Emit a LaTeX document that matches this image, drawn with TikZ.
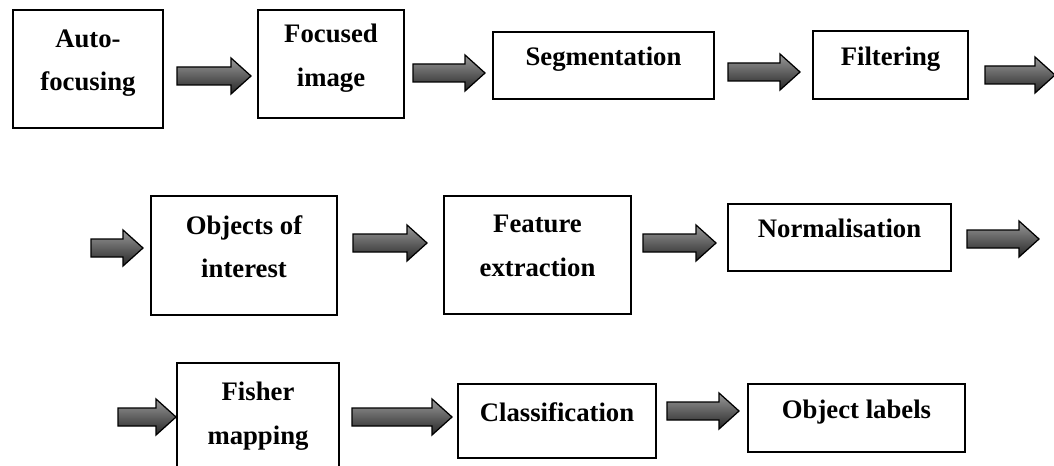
\documentclass[tikz,border=0pt]{standalone}
\usepackage{fontspec}
\setmainfont{Liberation Serif}

\tikzset{
  stagebox/.style={draw, line width=1.2pt, align=center,
    font=\bfseries\fontsize{19}{31}\selectfont,
    execute at end node={\rule[-0.45cm]{0pt}{0pt}}},
  arrowfill/.style={draw, line width=0.9pt, line join=miter,
    top color=black!40, bottom color=black!85},
  pics/fatarrow/.style={code={
    \path[arrowfill] (0,-9) -- (#1-20,-9) -- (#1-20,-18) -- (#1,0)
      -- (#1-20,18) -- (#1-20,9) -- (0,9) -- cycle;}}
}

\begin{document}
\begin{tikzpicture}[x=0.025cm, y=-0.025cm]
  \clip (0,0) rectangle (1054,466);
  % first row
  \node[stagebox, minimum width=3.75cm, minimum height=2.95cm] (auto) at (88,69) {Auto-\\focusing};
  \node[stagebox, minimum width=3.65cm, minimum height=2.7cm] (focus) at (331,64) {Focused\\image};
  \node[stagebox, minimum width=5.525cm, minimum height=1.675cm] (segm) at (603.5,65.5) {Segmentation};
  \node[stagebox, minimum width=3.875cm, minimum height=1.7cm] (filt) at (890.5,65) {Filtering};
  \pic (arra) at (177,76) {fatarrow=74};
  \pic (arrb) at (413,73) {fatarrow=72};
  \pic (arrc) at (728,72) {fatarrow=72};
  \pic (arrd) at (985,75) {fatarrow=70};
  % second row
  \node[stagebox, minimum width=4.65cm, minimum height=2.975cm] (objs) at (244,255.5) {Objects of\\interest};
  \node[stagebox, minimum width=4.675cm, minimum height=2.95cm] (feat) at (537.5,255) {Feature\\extraction};
  \node[stagebox, minimum width=5.575cm, minimum height=1.675cm] (norm) at (839.5,237.5) {Normalisation};
  \pic (arre) at (91,248) {fatarrow=52};
  \pic (arrf) at (353,243) {fatarrow=74};
  \pic (arrg) at (643,243) {fatarrow=73};
  \pic (arrh) at (967,239) {fatarrow=72};
  % third row
  \node[stagebox, minimum width=4.05cm, minimum height=2.975cm] (fish) at (258,422.5) {Fisher\\mapping};
  \node[stagebox, minimum width=4.95cm, minimum height=1.85cm] (clas) at (557,421) {Classification};
  \node[stagebox, minimum width=5.425cm, minimum height=1.7cm] (labl) at (856.5,418) {Object labels};
  \pic (arri) at (118,417) {fatarrow=58};
  \pic (arrj) at (352,417) {fatarrow=100};
  \pic (arrk) at (667,411) {fatarrow=72};
\end{tikzpicture}
\end{document}
